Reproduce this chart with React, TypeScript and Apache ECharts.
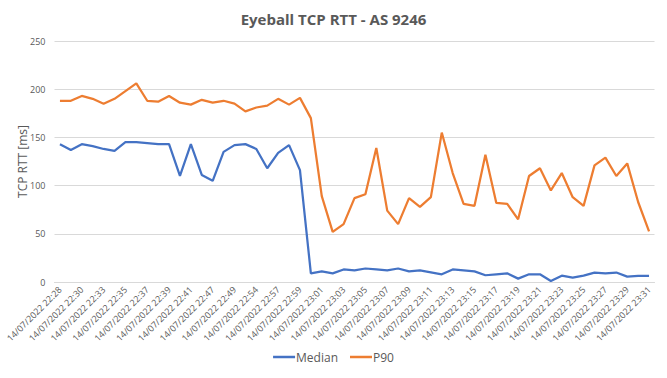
import React, { useEffect, useRef } from "react";
import * as echarts from "echarts";

const times = [
  "22:28", "22:29", "22:30", "22:31", "22:33", "22:34", "22:35", "22:36", "22:37", "22:38",
  "22:39", "22:40", "22:41", "22:46", "22:47", "22:48", "22:49", "22:52", "22:54", "22:56",
  "22:57", "22:58", "22:59", "23:00", "23:01", "23:02", "23:03", "23:04", "23:05", "23:06",
  "23:07", "23:08", "23:09", "23:10", "23:11", "23:12", "23:13", "23:14", "23:15", "23:16",
  "23:17", "23:18", "23:19", "23:20", "23:21", "23:22", "23:23", "23:24", "23:25", "23:26",
  "23:27", "23:28", "23:29", "23:30", "23:31",
];
const categories = times.map((t) => "14/07/2022 " + t);

const median = [
  143, 137, 143, 141, 138, 136, 145, 145, 144, 143,
  143, 110, 143, 111, 105, 135, 142, 143, 138, 118,
  134, 142, 116, 9, 11, 9, 13, 12, 14, 13,
  12, 14, 11, 12, 10, 8, 13, 12, 11, 7,
  8, 9, 3.5, 8, 8, 1, 6.6, 4.5, 6.6, 9.8,
  9, 9.8, 5.6, 6.3, 6.3,
];
const p90 = [
  188, 188, 193, 190, 185, 190, 198, 206, 188, 187,
  193, 186, 184, 189, 186, 188, 185, 177, 181, 183,
  190, 184, 191, 170, 89, 52, 60, 87, 91, 139,
  74, 60, 87, 78, 88, 155, 113, 81, 79, 132,
  82, 81, 65, 110, 118, 95, 113, 88, 79, 121,
  129, 110, 123, 83, 52.5,
];
const yTicks = { min: 0, max: 250, interval: 50 };

export default function App() {
  const ref = useRef<HTMLDivElement>(null);
  useEffect(() => {
    if (!ref.current) return;
    const chart = echarts.init(ref.current, null, { renderer: "svg" });
    const font = "'Open Sans', 'Liberation Sans', sans-serif";
    chart.setOption({
      animation: false,
      backgroundColor: "#ffffff",
      textStyle: { fontFamily: font },
      title: {
        text: "Eyeball TCP RTT - AS 9246",
        left: "center",
        top: 6,
        textStyle: { fontSize: 15, fontWeight: "bold", color: "#595959", fontFamily: font },
      },
      legend: {
        bottom: 10,
        left: "center",
        icon: "rect",
        itemWidth: 22,
        itemHeight: 2.5,
        itemGap: 12,
        textStyle: { fontSize: 12, color: "#595959", padding: [0, 0, 0, -4] },
        data: ["Median", "P90"],
      },
      grid: { left: 54.5, width: 600, top: 41, height: 241 },
      xAxis: {
        type: "category",
        data: categories,
        boundaryGap: true,
        axisLine: { lineStyle: { color: "#D9D9D9" } },
        axisTick: { interval: 0, length: 5, lineStyle: { color: "#D9D9D9" } },
        axisLabel: { interval: 1, rotate: 45, fontSize: 9, color: "#595959", margin: 6 },
      },
      yAxis: {
        type: "value",
        min: yTicks.min,
        max: yTicks.max,
        interval: yTicks.interval,
        name: "TCP RTT [ms]",
        nameLocation: "middle",
        nameGap: 26,
        nameMoveOverlap: false,
        nameTextStyle: { fontSize: 12, color: "#595959" },
        axisLine: { show: false },
        axisTick: { show: false },
        axisLabel: { fontSize: 9, color: "#595959", margin: 9 },
        splitLine: { lineStyle: { color: "#D9D9D9" } },
      },
      series: [
        {
          name: "Median",
          type: "line",
          data: median,
          showSymbol: false,
          symbol: "none",
          lineStyle: { color: "#4472C4", width: 2.25 },
          itemStyle: { color: "#4472C4" },
        },
        {
          name: "P90",
          type: "line",
          data: p90,
          showSymbol: false,
          symbol: "none",
          lineStyle: { color: "#ED7D31", width: 2.25 },
          itemStyle: { color: "#ED7D31" },
        },
      ],
    });
    return () => chart.dispose();
  }, []);
  return (
    <div
      ref={ref}
      style={{ position: "fixed", left: 0, top: 0, width: 667, height: 378 }}
    />
  );
}
